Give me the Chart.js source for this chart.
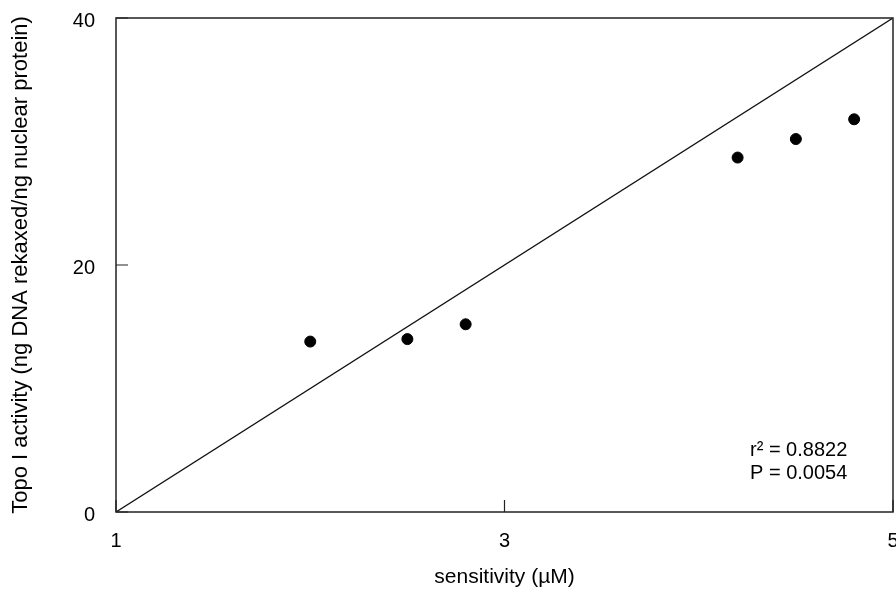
<!DOCTYPE html>
<html>
<head>
<meta charset="utf-8">
<script src="https://cdn.jsdelivr.net/npm/chart.js@4.4.1/dist/chart.umd.min.js"></script>
<style>
html, body { margin: 0; padding: 0; background: #fff; }
#wrap { width: 896px; height: 592px; }
</style>
</head>
<body>
<div id="wrap"><canvas id="chart" width="896" height="592"></canvas></div>
<script>
// data
const sensitivity = [2.0, 2.5, 2.8, 4.2, 4.5, 4.8];
const topoActivity = [13.8, 14.0, 15.2, 28.7, 30.2, 31.8];
const fitX = [1, 5];
const fitY = [0, 40];
const xTicks = [1, 3, 5];
const yTicks = [0, 20, 40];
const stats = ['r\u00b2 = 0.8822', 'P = 0.0054'];

const FONT = '"Liberation Sans", Arial, Helvetica, sans-serif';

// box around the plot, inward ticks, stats text
const frame = {
    id: 'frame',
    afterDatasetsDraw(chart) {
        const { ctx, chartArea: a, scales: { x, y } } = chart;
        ctx.save();
        ctx.strokeStyle = '#222';
        ctx.lineWidth = 1.5;
        ctx.strokeRect(a.left, a.top, a.right - a.left, a.bottom - a.top);
        ctx.lineWidth = 1.2;
        ctx.beginPath();
        xTicks.forEach(v => {
            const px = x.getPixelForValue(v);
            ctx.moveTo(px, a.bottom);
            ctx.lineTo(px, a.bottom - 12);
        });
        yTicks.forEach(v => {
            const py = y.getPixelForValue(v);
            ctx.moveTo(a.left, py);
            ctx.lineTo(a.left + 12, py);
        });
        ctx.stroke();
        ctx.fillStyle = '#000';
        ctx.font = '20px ' + FONT;
        ctx.textBaseline = 'alphabetic';
        stats.forEach((s, i) => ctx.fillText(s, a.right - 143, a.bottom - 56 + i * 23));
        ctx.restore();
    }
};

new Chart(document.getElementById('chart'), {
    type: 'scatter',
    data: {
        datasets: [
            {
                data: sensitivity.map((v, i) => ({ x: v, y: topoActivity[i] })),
                backgroundColor: '#000',
                borderColor: '#000',
                pointRadius: 5.5,
                pointHoverRadius: 5.5
            },
            {
                type: 'line',
                data: fitX.map((v, i) => ({ x: v, y: fitY[i] })),
                borderColor: '#111',
                borderWidth: 1.3,
                pointRadius: 0,
                fill: false
            }
        ]
    },
    options: {
        responsive: false,
        animation: false,
        devicePixelRatio: 1,
        layout: { autoPadding: false, padding: { top: 18, right: 3, left: 0, bottom: 0 } },
        plugins: { legend: { display: false }, tooltip: { enabled: false } },
        scales: {
            x: {
                type: 'linear',
                min: 1,
                max: 5,
                afterBuildTicks: s => { s.ticks = xTicks.map(v => ({ value: v })); },
                afterFit: s => { s.height = 80; s.paddingLeft = 0; s.paddingRight = 0; },
                grid: { display: false, drawTicks: false },
                border: { display: false },
                ticks: { padding: 17, color: '#000', font: { family: FONT, size: 20 }, maxRotation: 0 },
                title: {
                    display: true,
                    text: 'sensitivity (\u00b5M)',
                    color: '#000',
                    font: { family: FONT, size: 21 },
                    padding: { top: 0, bottom: 2 }
                }
            },
            y: {
                type: 'linear',
                min: 0,
                max: 40,
                afterBuildTicks: s => { s.ticks = yTicks.map(v => ({ value: v })); },
                afterFit: s => { s.width = 116; s.paddingTop = 0; s.paddingBottom = 0; },
                grid: { display: false, drawTicks: false },
                border: { display: false },
                ticks: { padding: 21, labelOffset: 3, color: '#000', font: { family: FONT, size: 20 } },
                title: {
                    display: true,
                    text: 'Topo I activity (ng DNA rekaxed/ng nuclear protein)',
                    color: '#000',
                    font: { family: FONT, size: 22 },
                    padding: { top: 8, bottom: 0 }
                }
            }
        }
    },
    plugins: [frame]
});
</script>
</body>
</html>
